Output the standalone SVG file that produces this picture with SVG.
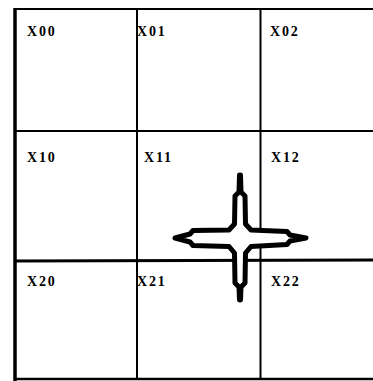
<svg xmlns="http://www.w3.org/2000/svg" width="373" height="381" viewBox="0 0 373 381">
<style>
.lbl{font-family:"Liberation Serif","Times New Roman",serif;font-size:14px;font-weight:bold;letter-spacing:1.8px;fill:#000}
.ln{stroke:#000;fill:none}
</style>
<rect width="373" height="381" fill="#fff"/>
<g id="grid">
<line class="ln" x1="14" y1="9" x2="373" y2="9" stroke-width="2"/>
<line class="ln" x1="15" y1="8" x2="15" y2="381" stroke-width="3.5"/>
<line class="ln" x1="137" y1="9" x2="137" y2="380" stroke-width="2"/>
<line class="ln" x1="260.5" y1="9" x2="260.5" y2="380" stroke-width="2"/>
<line class="ln" x1="14" y1="131" x2="373" y2="131" stroke-width="2"/>
<line class="ln" x1="14" y1="261" x2="373" y2="260" stroke-width="3"/>
<line class="ln" x1="14" y1="379" x2="373" y2="379" stroke-width="2.5"/>
</g>
<g id="X00"><text class="lbl" x="27" y="36">X00</text></g>
<g id="X01"><text class="lbl" x="137" y="36">X01</text></g>
<g id="X02"><text class="lbl" x="270" y="36">X02</text></g>
<g id="X10"><text class="lbl" x="27" y="162">X10</text></g>
<g id="X11"><text class="lbl" x="144" y="162">X11</text></g>
<g id="X12"><text class="lbl" x="271" y="162">X12</text></g>
<g id="X20"><text class="lbl" x="27" y="286">X20</text></g>
<g id="X21"><text class="lbl" x="137" y="286">X21</text></g>
<g id="X22"><text class="lbl" x="271" y="286">X22</text></g>
<g id="cursor">
<polygon fill="#fff" stroke="#000" stroke-width="5" stroke-linejoin="round" points="239.5,175 240.5,175 241,192 245,196 245.5,224 251,230 287,231.5 290,235 306,238 290,241 287,244.5 251,246.5 245.5,253 245,283 241,287 240.5,300 239.5,300 239,287 235,283 234.5,253 229,246.5 193,245.5 190,242 175,238 190,234 193,230.5 229,230 234.5,224 235,196 239,192"/>
</g>
<g id="connectors"></g>
</svg>
